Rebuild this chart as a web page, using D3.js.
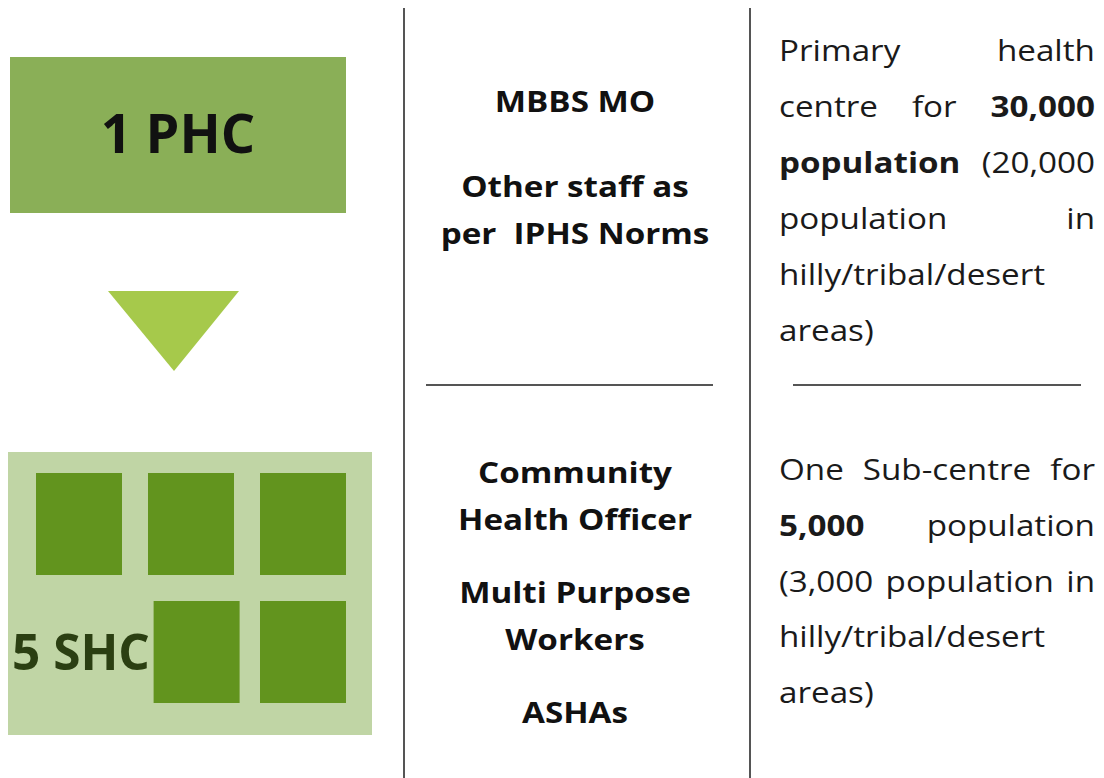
<!DOCTYPE html>
<html>
<head>
<meta charset="utf-8">
<script src="https://cdn.jsdelivr.net/npm/d3@7"></script>
<style>
  body { margin: 0; background: #fff; }
  svg { display: block; font-family: "Open Sans", sans-serif; }
</style>
</head>
<body>
<div class="chart"></div>
<script>
var width = 1104;
var height = 778;
var stretch = 1.145; // source text is drawn a bit wide

// facility labels
var phcLabel = "1 PHC";
var shcLabel = "5 SHC";

// sub-centre squares (grid column, row)
var shcCells = [
  {col: 0, row: 0}, {col: 1, row: 0}, {col: 2, row: 0},
  {col: 1.05, row: 1}, {col: 2, row: 1}
];

// staff lines (middle column), "" = paragraph gap
var phcStaff = ["MBBS MO", "", "Other staff as", "per  IPHS Norms"];
var shcStaff = ["Community", "Health Officer", "", "Multi Purpose", "Workers", "", "ASHAs"];

// norms text (right column), each line = list of [word, bold]
var phcNorm = [
  [["Primary", 0], ["health", 0]],
  [["centre", 0], ["for", 0], ["30,000", 1]],
  [["population", 1], ["(20,000", 0]],
  [["population", 0], ["in", 0]],
  [["hilly/tribal/desert", 0]],
  [["areas)", 0]]
];
var shcNorm = [
  [["One", 0], ["Sub-centre", 0], ["for", 0]],
  [["5,000", 1], ["population", 0]],
  [["(3,000", 0], ["population", 0], ["in", 0]],
  [["hilly/tribal/desert", 0]],
  [["areas)", 0]]
];

var svg = d3.select(".chart").append("svg")
  .attr("width", width)
  .attr("height", height);

// ---- left column ----
svg.append("rect")
  .attr("x", 10).attr("y", 57)
  .attr("width", 336).attr("height", 156)
  .attr("fill", "#8aaf57");

svg.append("text")
  .attr("x", 178).attr("y", 153)
  .attr("text-anchor", "middle")
  .attr("font-size", 54).attr("font-weight", 700)
  .attr("fill", "#111")
  .text(phcLabel);

svg.append("path")
  .attr("d", "M108,291L239,291L174,371Z")
  .attr("fill", "#a6c94b");

svg.append("rect")
  .attr("x", 8).attr("y", 452)
  .attr("width", 364).attr("height", 283)
  .attr("fill", "#c0d5a5");

var colX = d3.scaleLinear().domain([0, 2]).range([36, 260]);
var rowY = d3.scaleLinear().domain([0, 1]).range([473, 601]);

svg.selectAll(".shc")
  .data(shcCells)
  .enter().append("rect")
    .attr("class", "shc")
    .attr("x", function(d) { return colX(d.col); })
    .attr("y", function(d) { return rowY(d.row); })
    .attr("width", 86).attr("height", 102)
    .attr("fill", "#62941e");

svg.append("text")
  .attr("x", 12).attr("y", 670)
  .attr("font-size", 49.5).attr("font-weight", 700)
  .attr("fill", "#2b3f12")
  .text(shcLabel);

// ---- dividers ----
svg.selectAll(".vline")
  .data([404, 750])
  .enter().append("line")
    .attr("x1", function(d) { return d; })
    .attr("x2", function(d) { return d; })
    .attr("y1", 8).attr("y2", height)
    .attr("stroke", "#555").attr("stroke-width", 2);

svg.selectAll(".hline")
  .data([[426, 713], [793, 1081]])
  .enter().append("line")
    .attr("x1", function(d) { return d[0]; })
    .attr("x2", function(d) { return d[1]; })
    .attr("y1", 385).attr("y2", 385)
    .attr("stroke", "#555").attr("stroke-width", 2);

// ---- middle column ----
function staffBlock(lines, top, step, blank) {
  var ys = [], y = top;
  lines.forEach(function(d) {
    if (d === "") { y += blank; ys.push(null); }
    else { ys.push(y); y += step; }
  });
  svg.append("g").selectAll("text")
    .data(lines.filter(function(d) { return d !== ""; }))
    .enter().append("text")
      .attr("transform", function(d) {
        var yy = ys[lines.indexOf(d)];
        return "translate(575," + yy + ") scale(" + stretch + ",1)";
      })
      .attr("text-anchor", "middle")
      .attr("font-size", 29).attr("font-weight", 700)
      .attr("fill", "#111")
      .style("white-space", "pre")
      .text(function(d) { return d; });
}
staffBlock(phcStaff, 112, 47, 38);
staffBlock(shcStaff, 483, 46.5, 27);

// ---- right column (justified) ----
function normBlock(lines, top, step) {
  var left = 779, right = 1095;
  lines.forEach(function(line, i) {
    var g = svg.append("g");
    var y = top + i * step;
    var words = g.selectAll("text")
      .data(line)
      .enter().append("text")
        .attr("font-size", 29)
        .attr("font-weight", function(d) { return d[1] ? 700 : 400; })
        .attr("fill", "#1a1a1a")
        .text(function(d) { return d[0]; });
    var widths = [];
    words.each(function() { widths.push(this.getComputedTextLength() * stretch); });
    var total = d3.sum(widths);
    var last = i === lines.length - 1 || line.length === 1;
    var gap = last ? 8 : (right - left - total) / (line.length - 1);
    var x = left;
    words.attr("transform", function(d, j) {
      var pos = x;
      x += widths[j] + gap;
      return "translate(" + pos + "," + y + ") scale(" + stretch + ",1)";
    });
  });
}
normBlock(phcNorm, 61, 56);
normBlock(shcNorm, 480, 55.8);
</script>
</body>
</html>
